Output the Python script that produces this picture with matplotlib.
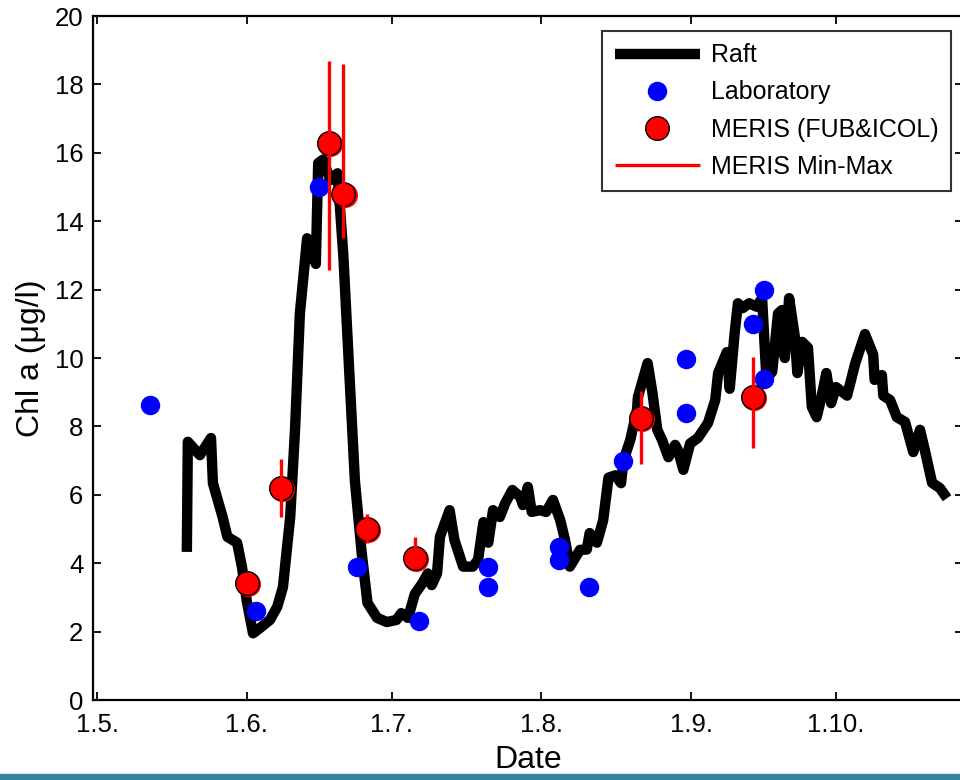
import numpy as np
import matplotlib
matplotlib.use("Agg")
import matplotlib.pyplot as plt
import matplotlib.transforms as mtransforms
from matplotlib.patches import Rectangle

plt.rcParams['font.family'] = ['Liberation Sans', 'DejaVu Sans']

# days counted from 1 May
tick_days = [0, 31, 61, 92, 123, 153]
tick_labels = ["1.5.", "1.6.", "1.7.", "1.8.", "1.9.", "1.10."]

raft_days = [18.6, 18.8, 21.3, 23.6, 24.0, 26.0, 27.0, 29.0, 30.0, 31.0, 32.3, 33.7,
             35.8, 37.3, 38.5, 39.3, 40.0, 41.0, 42.0, 43.5, 45.3, 45.8, 46.8, 48.3,
             49.8, 51.0, 52.3, 53.4, 54.8, 56.0, 58.0, 60.0, 62.0, 63.0, 64.4, 65.8,
             67.3, 68.5, 69.3, 70.4, 71.0, 73.0, 74.0, 75.8, 77.8, 78.9, 80.0, 81.0,
             82.0, 83.4, 84.5, 86.0, 87.6, 88.2, 89.2, 90.0, 91.7, 93.0, 94.4, 95.9,
             96.9, 97.9, 100.0, 101.4, 102.0, 103.5, 104.8, 105.9, 107.3, 108.5, 109.0,
             110.4, 111.8, 112.0, 114.0, 115.0, 116.0, 117.0, 118.3, 119.7, 120.3, 121.4,
             122.8, 124.4, 126.5, 128.0, 128.6, 130.4, 131.0, 132.0, 132.7, 133.7, 135.0,
             136.6, 137.7, 138.6, 139.8, 141.0, 141.8, 142.4, 143.3, 144.5, 145.0, 146.0,
             147.2, 148.0, 149.0, 150.0, 151.0, 152.0, 153.0, 155.3, 157.0, 159.0, 160.7,
             161.0, 162.5, 162.8, 164.2, 165.6, 167.3, 169.0, 170.4, 171.4, 172.9, 174.5,
             176.0]
raft_vals = [4.33, 7.55, 7.16, 7.66, 6.34, 5.35, 4.77, 4.6, 3.9, 2.9, 1.95, 2.1,
             2.34, 2.72, 3.3, 4.4, 5.35, 7.9, 11.3, 13.5, 12.75, 15.7, 15.8, 15.2,
             15.4, 13.0, 9.4, 6.4, 4.3, 2.84, 2.4, 2.28, 2.34, 2.54, 2.4, 3.1,
             3.4, 3.7, 3.36, 3.7, 4.77, 5.55, 4.68, 3.9, 3.9, 4.1, 5.2, 4.6,
             5.55, 5.35, 5.75, 6.14, 5.94, 5.7, 6.23, 5.5, 5.55, 5.5, 5.85, 5.26,
             4.68, 3.9, 4.39, 4.4, 4.88, 4.6, 5.26, 6.5, 6.57, 6.34, 7.0,
             7.6, 8.48, 8.86, 9.85, 8.98, 7.9, 7.6, 7.1, 7.46, 7.3, 6.73,
             7.5, 7.66, 8.1, 8.77, 9.56, 10.17, 9.1, 10.7, 11.6, 11.46, 11.6,
             11.5, 11.75, 9.4, 9.6, 11.3, 11.4, 10.0, 11.75, 10.6, 9.56, 10.47,
             10.3, 8.57, 8.27, 8.86, 9.56, 8.68, 9.15, 8.9, 9.85, 10.7, 10.1,
             9.36, 9.5, 8.9, 8.77, 8.27, 8.13, 7.25, 7.9, 7.3, 6.35, 6.2,
             5.9]

lab_days = [11.0, 32.9, 46.0, 53.8, 66.7, 80.9, 80.9, 95.6, 95.6, 101.9, 108.9,
            122.0, 122.0, 135.8, 138.0, 138.0]
lab_vals = [8.63, 2.6, 15.0, 3.89, 2.31, 3.89, 3.3, 4.47, 4.1, 3.3, 6.99,
            9.97, 8.39, 11.0, 12.0, 9.39]

meris_days = [31.05, 38.1, 48.0, 51.0, 55.9, 65.8, 112.6, 135.8]
meris_vals = [3.42, 6.2, 16.3, 14.8, 5.0, 4.15, 8.24, 8.86]
meris_min = [3.3, 5.35, 12.57, 13.5, 4.6, 3.9, 6.9, 7.37]
meris_max = [3.55, 7.05, 18.68, 18.6, 5.45, 4.77, 9.03, 10.03]

fig = plt.figure(figsize=(9.6, 7.8), dpi=100)
ax = fig.add_axes([93 / 960, 80 / 780, 870 / 960, 684 / 780])

ax.plot(raft_days, raft_vals, color='black', lw=7.5, solid_capstyle='butt',
        solid_joinstyle='round', label='Raft', zorder=2)
ax.plot(lab_days, lab_vals, 'o', color='blue', ms=13, mec='blue', ls='none',
        label='Laboratory', zorder=3)

shadow = mtransforms.offset_copy(ax.transData, fig=fig, x=1.2, y=-1.2, units='dots')
ax.plot(meris_days, meris_vals, 'o', color='red', ms=17, mec='red', mew=1,
        ls='none', transform=shadow, zorder=4)
ax.plot(meris_days, meris_vals, 'o', color='red', ms=17, mec='black', mew=1,
        ls='none', label='MERIS (FUB&ICOL)', zorder=5)
ax.vlines(meris_days, meris_min, meris_max, color='red', lw=2.4,
          label='MERIS Min-Max', zorder=6)

ax.set_xlim(-0.83, 179.3)
ax.set_ylim(0, 20)
ax.set_xticks(tick_days)
ax.set_xticklabels(tick_labels)
ax.set_yticks(np.arange(0, 21, 2))
ax.tick_params(direction='in', length=6, width=1.3, labelsize=18.5,
               top=True, right=True, pad=7)
ax.tick_params(axis='x', pad=9)
for sp in ax.spines.values():
    sp.set_linewidth(1.6)

ax.set_xlabel('Date', fontsize=23, labelpad=6)
ax.set_ylabel('Chl a (\u03bcg/l)', fontsize=23, labelpad=6)

leg = ax.legend(loc='upper right', bbox_to_anchor=(951 / 960, 1 - 31 / 780),
                bbox_transform=fig.transFigure, fontsize=18, frameon=True,
                fancybox=False, edgecolor='black', handlelength=3.4,
                handletextpad=0.45, labelspacing=0.52, borderpad=0.5,
                borderaxespad=0)
leg.get_frame().set_linewidth(1.5)

fig.patches.append(Rectangle((0, 0), 1, 6 / 780, transform=fig.transFigure,
                             color='#31859c', zorder=10))

fig.savefig('out.png', dpi=100)
